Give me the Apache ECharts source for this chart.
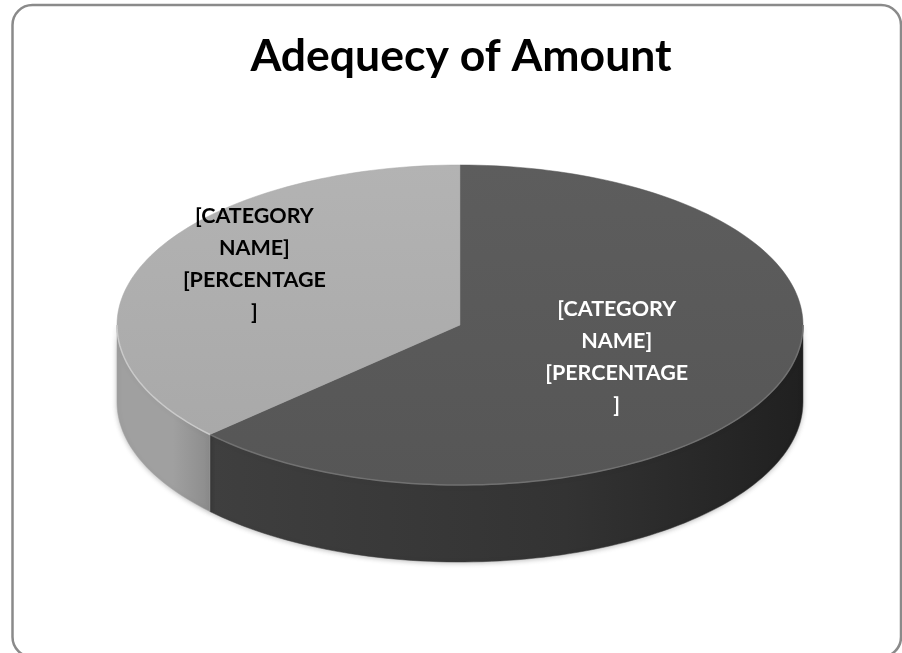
<!DOCTYPE html>
<html>
<head>
<meta charset="utf-8">
<title>Adequecy of Amount</title>
<script src="https://cdn.jsdelivr.net/npm/echarts@6/dist/echarts.min.js"></script>
<style>
  html, body { margin: 0; padding: 0; background: #ffffff; }
  #chart { width: 902px; height: 653px; }
</style>
</head>
<body>
<div id="chart"></div>
<script>
// ---- data ----
const categories = ['Adequate', 'Not adequate'];
const values = [63, 37];
const labelLines = ['[CATEGORY', 'NAME]', '[PERCENTAGE', ']'];
const titleText = 'Adequecy of Amount';

// ---- layout & style ----
const PIE = { cx: 460, cy: 325, rx: 343, ry: 160, depth: 77 };
const topColors = [
  ['#5d5d5d', '#565656'],
  ['#b3b3b3', '#a7a7a7']
];
const sideColors = [
  ['#3f3f3f', '#202020'],
  ['#a0a0a0', '#8c8c8c']
];
const rimColors = ['rgba(115,115,115,0.9)', 'rgba(205,205,205,0.9)'];
const labelColors = ['#ffffff', '#000000'];
// label anchors: [radius fraction, angle shift in degrees]
const labelPlacement = [[0.50, 0.6], [0.71, 9.0]];

const total = values.reduce((a, b) => a + b, 0);
const DEG = Math.PI / 180;

// angle measured clockwise from 12 o'clock, in degrees
function pt(a, dy) {
  return [PIE.cx + PIE.rx * Math.sin(a * DEG), PIE.cy - PIE.ry * Math.cos(a * DEG) + (dy || 0)];
}
function arc(a0, a1, dy) {
  const out = [];
  const n = Math.max(2, Math.ceil(Math.abs(a1 - a0) / 1.5));
  for (let i = 0; i <= n; i++) out.push(pt(a0 + (a1 - a0) * i / n, dy));
  return out;
}

function renderSlice(params, api) {
  const i = params.dataIndex;
  let start = 0;
  for (let k = 0; k < i; k++) start += values[k] / total * 360;
  const sweep = api.value(0) / total * 360;
  const end = start + sweep;
  const children = [];

  // front wall: the part of the rim facing the viewer (90deg..270deg)
  const s0 = Math.max(start, 90), s1 = Math.min(end, 270);
  if (s1 > s0) {
    const topEdge = arc(s0, s1, 0);
    const botEdge = arc(s1, s0, PIE.depth);
    const xs = topEdge.map(p => p[0]);
    children.push({
      type: 'polygon',
      shape: { points: topEdge.concat(botEdge) },
      style: {
        fill: new echarts.graphic.LinearGradient(Math.min(...xs), 0, Math.max(...xs), 0, [
          { offset: 0, color: sideColors[i][0] },
          { offset: 0.6, color: i === 0 ? '#333333' : sideColors[i][0] },
          { offset: 1, color: sideColors[i][1] }
        ], true),
        stroke: sideColors[i][0],
        lineWidth: 0.5,
        shadowBlur: 5,
        shadowColor: 'rgba(0,0,0,0.25)',
        shadowOffsetY: 1
      }
    });
  }

  // top face
  const face = [[PIE.cx, PIE.cy]].concat(arc(start, end, 0));
  children.push({
    type: 'polygon',
    shape: { points: face },
    style: {
      fill: new echarts.graphic.LinearGradient(0, PIE.cy - PIE.ry, 0, PIE.cy + PIE.ry, [
        { offset: 0, color: topColors[i][0] },
        { offset: 1, color: topColors[i][1] }
      ], true),
      stroke: topColors[i][1],
      lineWidth: 0.5
    }
  });

  // soft highlight along the front edge of the top face
  if (s1 > s0) {
    children.push({
      type: 'polyline',
      shape: { points: arc(s0, s1, 0) },
      style: { stroke: rimColors[i], lineWidth: 1.5, fill: null }
    });
  }

  // data label
  const mid = start + sweep / 2 + labelPlacement[i][1];
  const f = labelPlacement[i][0];
  const lx = PIE.cx + PIE.rx * f * Math.sin(mid * DEG);
  const ly = PIE.cy - PIE.ry * f * Math.cos(mid * DEG);
  children.push({
    type: 'text',
    x: lx,
    y: ly,
    style: {
      text: labelLines.join('\n'),
      fill: labelColors[i],
      font: 'bold 21.5px Lato, "Open Sans", sans-serif',
      lineHeight: 32,
      align: 'center',
      verticalAlign: 'middle'
    }
  });

  return { type: 'group', children: children };
}

const chart = echarts.init(document.getElementById('chart'), null, { renderer: 'canvas' });
chart.setOption({
  backgroundColor: '#ffffff',
  animation: false,
  graphic: [{
    type: 'rect',
    shape: { x: 12.5, y: 5, width: 888.5, height: 652, r: 20 },
    style: { fill: null, stroke: '#8a8a8a', lineWidth: 2.5 },
    z: -1
  }, {
    type: 'text',
    x: 461,
    y: 57,
    style: {
      text: titleText,
      fill: '#000000',
      font: 'bold 44.5px Lato, "Open Sans", sans-serif',
      align: 'center',
      verticalAlign: 'middle'
    }
  }],
  series: [{
    type: 'custom',
    coordinateSystem: 'none',
    renderItem: renderSlice,
    data: values.map((v, k) => ({ name: categories[k], value: [v] }))
  }]
});
</script>
</body>
</html>
